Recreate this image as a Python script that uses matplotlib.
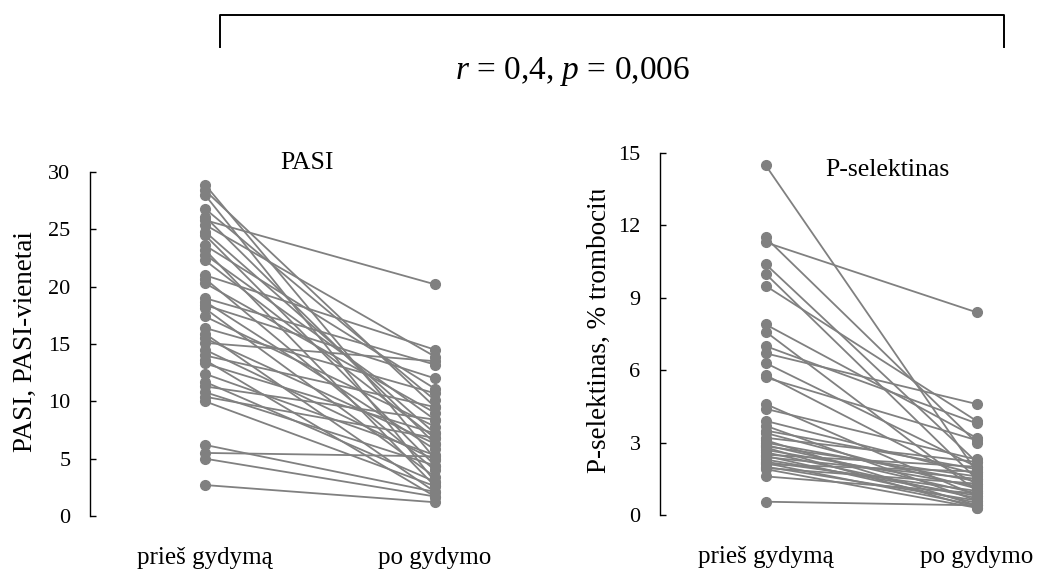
import matplotlib
matplotlib.use("Agg")
import matplotlib.pyplot as plt
from matplotlib.lines import Line2D
from matplotlib.transforms import Bbox

plt.rcParams['font.family'] = ['Liberation Serif', 'DejaVu Serif']
plt.rcParams['mathtext.fontset'] = 'custom'
plt.rcParams['mathtext.rm'] = 'Liberation Serif'
plt.rcParams['mathtext.it'] = 'Liberation Serif:italic'

# PASI pries / po gydymo (poros)
pasi_pries = [28.9, 28.4, 28.0, 26.8, 26.1, 25.8, 25.4, 24.8, 24.5, 23.6,
              23.2, 22.8, 22.3, 21.0, 20.7, 20.3, 19.0, 18.7, 18.4, 18.1,
              17.4, 16.4, 15.9, 15.5, 15.1, 14.5, 14.0, 13.6, 13.3, 12.4,
              11.7, 11.3, 10.8, 10.4, 10.0, 6.2, 5.5, 5.0, 2.7]
pasi_po = [5.0, 9.5, 3.0, 10.1, 6.3, 20.2, 13.9, 7.2, 4.4, 11.1,
           2.6, 8.4, 6.8, 14.5, 4.0, 9.0, 13.2, 5.8, 12.0, 3.4,
           7.8, 10.7, 2.1, 6.3, 13.5, 4.9, 9.5, 1.7, 7.2, 5.3,
           3.0, 8.4, 4.4, 6.8, 2.6, 2.1, 5.2, 1.7, 1.2]

# P-selektinas, % trombocitu
psel_pries = [14.5, 11.5, 11.3, 10.4, 10.0, 9.5, 7.9, 7.6, 7.0, 6.7,
              6.3, 5.8, 5.7, 4.6, 4.4, 3.9, 3.7, 3.5, 3.4, 3.2,
              3.1, 3.0, 2.9, 2.85, 2.8, 2.7, 2.6, 2.5, 2.45, 2.4,
              2.3, 2.2, 2.15, 2.1, 2.0, 1.95, 1.9, 1.6, 0.55]
psel_po = [1.8, 3.0, 8.4, 2.2, 1.5, 3.9, 3.2, 1.0, 3.8, 4.6,
           2.0, 1.3, 3.1, 0.8, 2.3, 1.7, 0.6, 1.9, 1.1, 2.2,
           0.4, 1.4, 0.9, 1.6, 0.3, 1.2, 0.7, 2.0, 0.5, 1.5,
           0.8, 1.0, 0.4, 1.8, 0.6, 1.3, 0.3, 0.9, 0.4]

kategorijos = ['prieš gydymą', 'po gydymo']
pasi_ticks = [0, 5, 10, 15, 20, 25, 30]
psel_ticks = [0, 3, 6, 9, 12, 15]

W, H = 1038, 574
fig = plt.figure(figsize=(W / 100, H / 100), dpi=100)

pilka = '#808080'
xs = [0.5, 1.5]


def piesti(ax, pries, po, ticks, ymax, pavad, tx, ty):
    for a, b in zip(pries, po):
        ax.plot(xs, [a, b], color=pilka, lw=1.3, marker='o', ms=7,
                mfc=pilka, mec=pilka, clip_on=False)
    ax.set_xlim(0, 2)
    ax.set_ylim(0, ymax)
    ax.set_yticks(ticks)
    ax.set_xticks(xs)
    ax.set_xticklabels(kategorijos, fontsize=18)
    ax.tick_params(axis='x', length=0, pad=22)
    ax.tick_params(axis='y', direction='in', length=4.5, width=1,
                   labelsize=16, pad=14)
    for s in ['top', 'right', 'bottom']:
        ax.spines[s].set_visible(False)
    ax.spines['left'].set_linewidth(1)
    ax.text(tx, ty, pavad, transform=ax.transAxes, ha='center',
            va='center', fontsize=18.5)


ax1 = fig.add_axes([90 / W, 1 - 516 / H, 460 / W, 344 / H])
piesti(ax1, pasi_pries, pasi_po, pasi_ticks, 30, 'PASI', 0.472, 1.026)

ax2 = fig.add_axes([660 / W, 1 - 515 / H, 422 / W, 362 / H])
piesti(ax2, psel_pries, psel_po, psel_ticks, 15, 'P-selektinas', 0.54, 0.953)

# asiu pavadinimai (virsus nukirptas)
t1 = fig.text(25 / W, 1 - 452 / H, 'PASI, PASI-vienetai', rotation=90,
              ha='center', va='bottom', fontsize=19.5)
t1.set_clip_box(Bbox.from_extents(0, 0, 60, H - 226))
t1.set_clip_on(True)
t2 = fig.text(600 / W, 1 - 473 / H, 'P-selektinas, % trombocitų', rotation=90,
              ha='center', va='bottom', fontsize=19.5)
t2.set_clip_box(Bbox.from_extents(560, 0, 640, H - 190))
t2.set_clip_on(True)

# skliaustas virsuje
fig.add_artist(Line2D([220 / W, 220 / W, 1004 / W, 1004 / W],
                      [1 - 47 / H, 1 - 15 / H, 1 - 15 / H, 1 - 47 / H],
                      color='black', lw=1.4))
fig.text(573 / W, 1 - 72 / H, '$r$ = 0,4, $p$ = 0,006', ha='center',
         va='center', fontsize=24)

fig.savefig('out.png', dpi=100)
